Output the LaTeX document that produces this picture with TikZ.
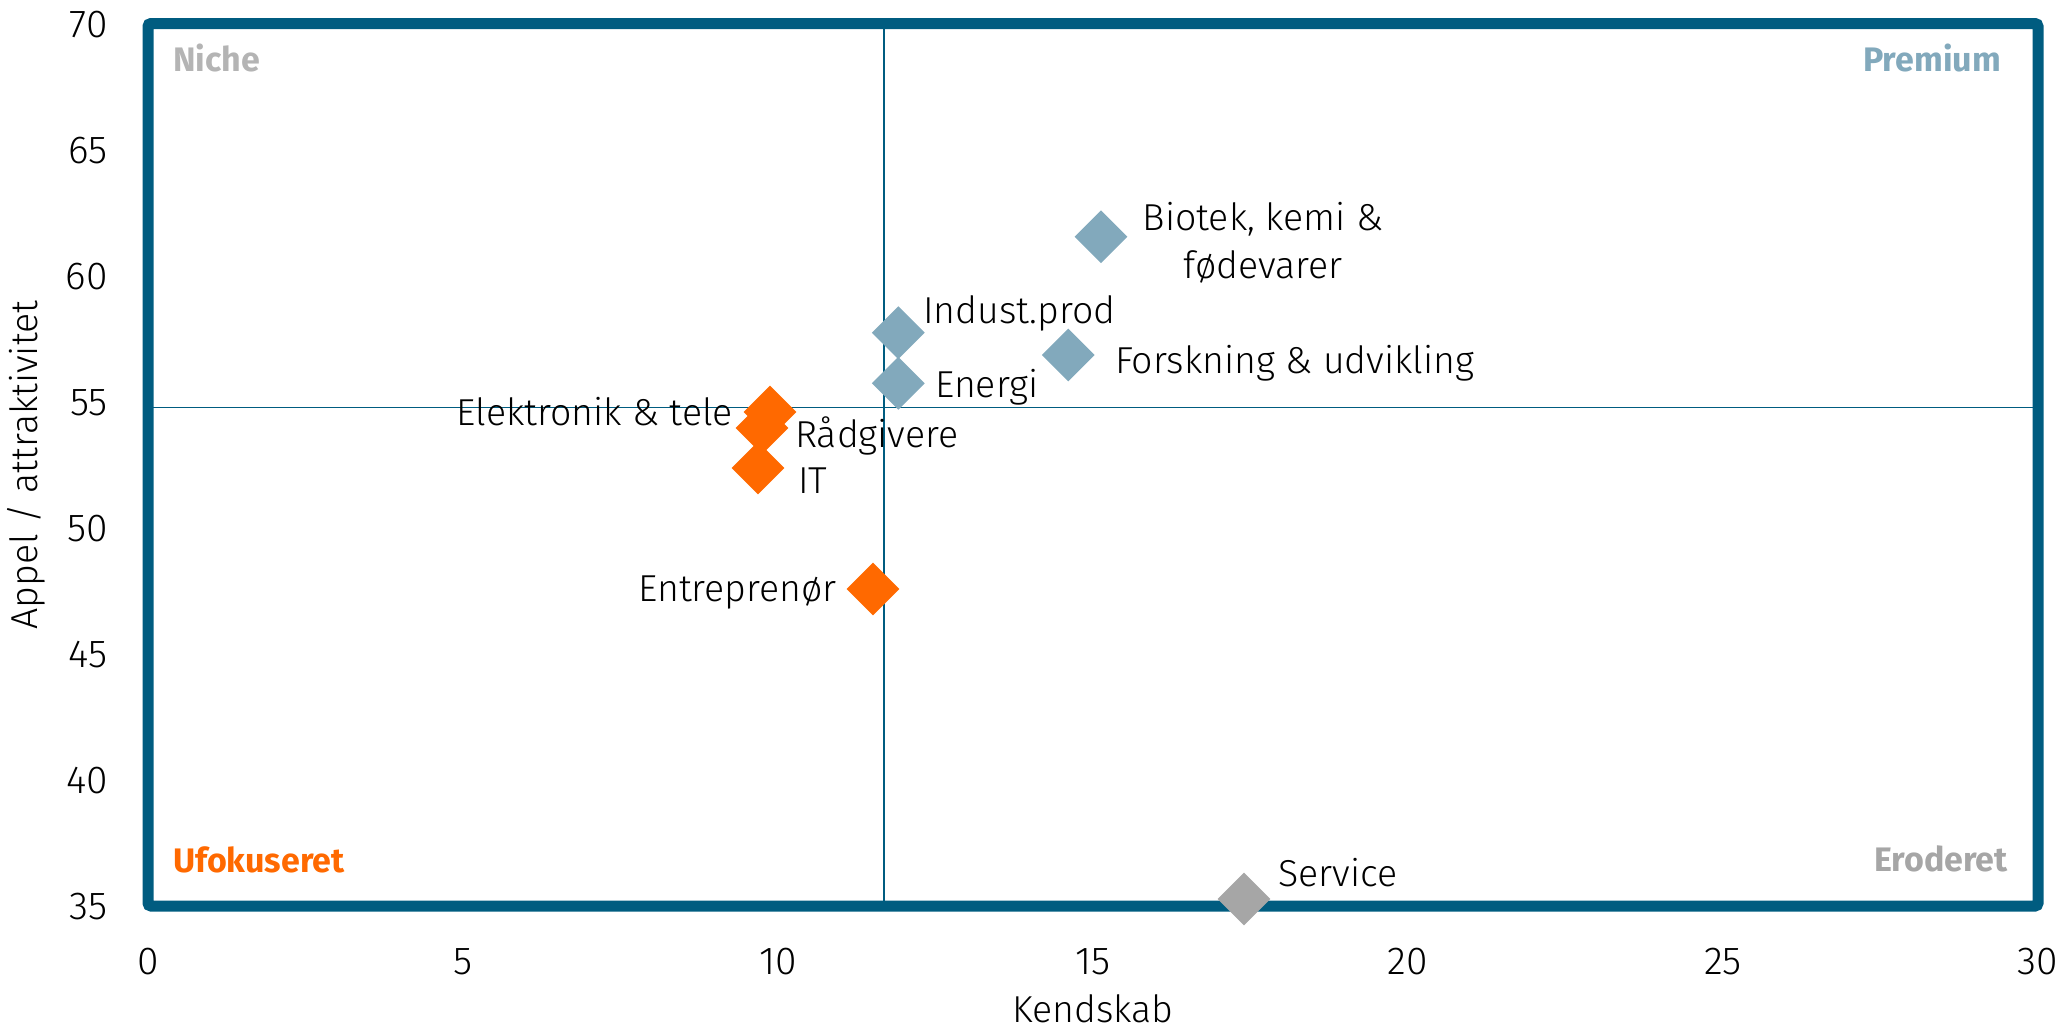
\documentclass[tikz,border=0pt]{standalone}
\usepackage{fontspec}
\setmainfont{Fira Sans}
\newfontfamily\lightfont{Fira Sans Light}
\usetikzlibrary{shapes.geometric}
\definecolor{framec}{HTML}{005C80}
\definecolor{bluec}{HTML}{82A9BC}
\definecolor{orangec}{HTML}{FF6900}
\definecolor{grayc}{HTML}{A6A6A6}
\definecolor{nichec}{HTML}{B4B4B4}
\tikzset{
  lbl/.style={inner sep=0pt, font=\lightfont\fontsize{37.5}{46}\selectfont, text=black},
  tick/.style={inner sep=0pt, font=\lightfont\fontsize{39}{46}\selectfont, text=black},
  quad/.style={inner sep=0pt, font=\bfseries\fontsize{34}{40}\selectfont},
  dia/.style={diamond, inner sep=0pt, minimum width=53pt, minimum height=53pt, draw=none},
  framebox/.style={draw=framec, line width=11pt, rounded corners=3pt},
  quadline/.style={draw=framec, line width=1.6pt}
}
\begin{document}
\begin{tikzpicture}[x=1pt,y=-1pt]
\useasboundingbox (0,0) rectangle (2070,1029);
% frame corners
\coordinate (tl) at (148,23.5);
\coordinate (br) at (2038,906);
\coordinate (vtop) at (884,23.5);
\coordinate (vbot) at (884,906);
\coordinate (hl) at (148,407.3);
\coordinate (hr) at (2038,407.3);
% quadrant lines
\draw[quadline] (vtop) -- (vbot);
\draw[quadline] (hl) -- (hr);
% frame
\draw[framebox] (tl) rectangle (br);
% y ticks
\foreach \v/\p in {70/23.5,65/149.5,60/275.5,55/401.5,50/527.5,45/653.5,40/779.5,35/905.5}
  \node[tick, anchor=base east] (yt\v) at (108,\p+13.5) {\v};
% x ticks
\foreach \v/\p in {0/148,5/463,10/778,15/1093,20/1408,25/1723,30/2038}
  \node[tick, anchor=base] (xt\v) at (\p,974) {\v};
% axis titles
\node[lbl, anchor=base, text depth=0pt] (xtitle) at (1093,1022) {Kendskab};
\node[lbl, anchor=base, rotate=90] (ytitle) at (37,465) {Appel / attraktivitet};
% quadrant names
\node[quad, text=nichec, anchor=base west] (niche) at (173,71) {Niche};
\node[quad, text=bluec, anchor=base east] (premium) at (2001,71) {Premium};
\node[quad, text=orangec, anchor=base west] (ufok) at (173,872) {Ufokuseret};
\node[quad, text=grayc, anchor=base east] (erod) at (2008,871) {Eroderet};
% points
\node[dia, fill=bluec] (biotek) at (1101,236.7) {};
\node[dia, fill=bluec] (indust) at (898.3,332.7) {};
\node[dia, fill=bluec] (forsk) at (1068.3,355) {};
\node[dia, fill=bluec] (energi) at (898.3,383.3) {};
\node[dia, fill=orangec] (it) at (758,468) {};
\node[dia, fill=orangec] (raad) at (762,428) {};
\node[dia, fill=orangec] (elek) at (770,412) {};
\node[dia, fill=orangec] (entre) at (873,589) {};
\node[dia, fill=grayc] (service) at (1244,899) {};
% labels
\node[lbl, anchor=base] (biotekA) at (1263,230) {Biotek, kemi \&};
\node[lbl, anchor=base] (biotekB) at (1263,278) {fødevarer};
\node[lbl, anchor=base west] (industL) at (923,323) {Indust.prod};
\node[lbl, anchor=base west] (forskL) at (1115,373) {Forskning \& udvikling};
\node[lbl, anchor=base west] (energiL) at (935,397) {Energi};
\node[lbl, anchor=base east] (elekL) at (733,425) {Elektronik \& tele};
\node[lbl, anchor=base west] (raadL) at (795,447) {Rådgivere};
\node[lbl, anchor=base west] (itL) at (798,493) {IT};
\node[lbl, anchor=base east] (entreL) at (837,601) {Entreprenør};
\node[lbl, anchor=base west] (serviceL) at (1278,886) {Service};
\end{tikzpicture}
\end{document}
